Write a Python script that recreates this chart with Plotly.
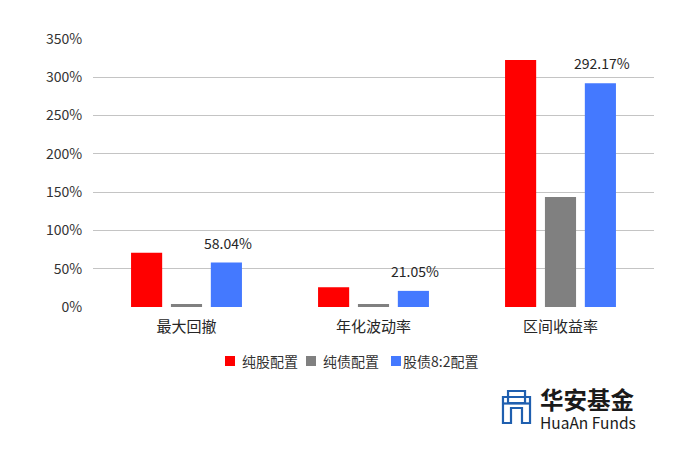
import plotly.graph_objects as go

categories = ["最大回撤", "年化波动率", "区间收益率"]
series_names = ["纯股配置", "纯债配置", "股债8:2配置"]
pure_stock = [70.8, 25.8, 322.5]
pure_bond = [3.9, 3.8, 143.6]
mix_82 = [58.04, 21.05, 292.17]
colors = ["#FF0000", "#808080", "#4479FF"]
y_ticks = [0, 50, 100, 150, 200, 250, 300, 350]
y_tick_text = [f"{v}%" for v in y_ticks]

W, H = 700, 465
ML, MR, MT, MB = 93, 46, 39, 158
FONT = "Noto Sans CJK SC, Noto Sans, sans-serif"


def px(x, y):
    # pixel -> paper coords
    return (x - ML) / (W - ML - MR), (H - MB - y) / (H - MT - MB)


fig = go.Figure()
for name, vals, c in zip(series_names, [pure_stock, pure_bond, mix_82], colors):
    fig.add_trace(go.Bar(x=categories, y=vals, name=name, marker_color=c,
                         marker_line_width=0, hoverinfo="skip", showlegend=False))

# data labels on the 8:2 series only
for cat, v in zip(categories, mix_82):
    fig.add_annotation(x=cat, y=v, text=f"{v:.2f}%", showarrow=False,
                       xshift=41, yshift=8, yanchor="bottom",
                       font=dict(size=14, color="#262626", family=FONT))

# legend drawn by hand, plotly's own spacing is too wide
legend_square_x = [230, 311, 396]
legend_text_x = [240, 321, 401]
for name, c, sx, tx in zip(series_names, colors, legend_square_x, legend_text_x):
    a0, b0 = px(sx - 5, 366)
    a1, b1 = px(sx + 5, 356)
    fig.add_shape(type="rect", x0=a0, y0=b0, x1=a1, y1=b1, xref="paper", yref="paper",
                  line_width=0, fillcolor=c)
    a, b = px(tx, 361)
    fig.add_annotation(x=a, y=b, xref="paper", yref="paper", text=name, showarrow=False,
                       xanchor="left", yanchor="middle",
                       font=dict(size=14, color="#333333", family=FONT))

# logo
outer = [(503, 397), (530, 397), (530, 423), (522, 423), (522, 408), (511, 408), (511, 423), (503, 423)]
top_box = [(508, 391), (525, 391), (525, 403), (508, 403)]
for poly in (outer, top_box):
    pts = [px(a, b) for a, b in poly]
    path = "M " + " L ".join(f"{a:.4f},{b:.4f}" for a, b in pts) + " Z"
    fig.add_shape(type="path", path=path, xref="paper", yref="paper",
                  line=dict(color="#1F5FAF", width=2.2), fillcolor="rgba(0,0,0,0)")
x0, y0 = px(503, 403.5)
x1, y1 = px(530, 403.5)
fig.add_shape(type="line", x0=x0, y0=y0, x1=x1, y1=y1, xref="paper", yref="paper",
              line=dict(color="#1F5FAF", width=2.2))

tx, ty = px(539, 399)
fig.add_annotation(x=tx, y=ty, xref="paper", yref="paper", text="<b>华安基金</b>",
                   showarrow=False, xanchor="left", yanchor="middle", borderpad=0,
                   font=dict(size=23.5, color="#1a1a1a", family=FONT))
tx, ty = px(539, 422)
fig.add_annotation(x=tx, y=ty, xref="paper", yref="paper", text="HuaAn Funds",
                   showarrow=False, xanchor="left", yanchor="middle", borderpad=0,
                   font=dict(size=15.5, color="#1a1a1a", family=FONT))

fig.update_layout(
    width=W, height=H,
    margin=dict(l=ML, r=MR, t=MT, b=MB),
    paper_bgcolor="white", plot_bgcolor="white",
    font=dict(family=FONT, color="#333333", size=14),
    barmode="group", bargap=0.36, bargroupgap=0.22,
    xaxis=dict(showgrid=False, showline=False, zeroline=False,
               ticks="outside", ticklen=6, tickcolor="rgba(0,0,0,0)",
               tickfont=dict(size=15, color="#262626")),
    yaxis=dict(range=[0, 350], tickmode="array", tickvals=y_ticks, ticktext=y_tick_text,
               showgrid=True, gridcolor="#C4C4C4", gridwidth=1,
               zeroline=False, showline=False,
               ticks="outside", ticklen=7, tickcolor="rgba(0,0,0,0)",
               tickfont=dict(size=14, color="#333333")),
)

fig.write_html("out.html", config={"displayModeBar": False},
               post_script="document.body.style.margin='0';")
